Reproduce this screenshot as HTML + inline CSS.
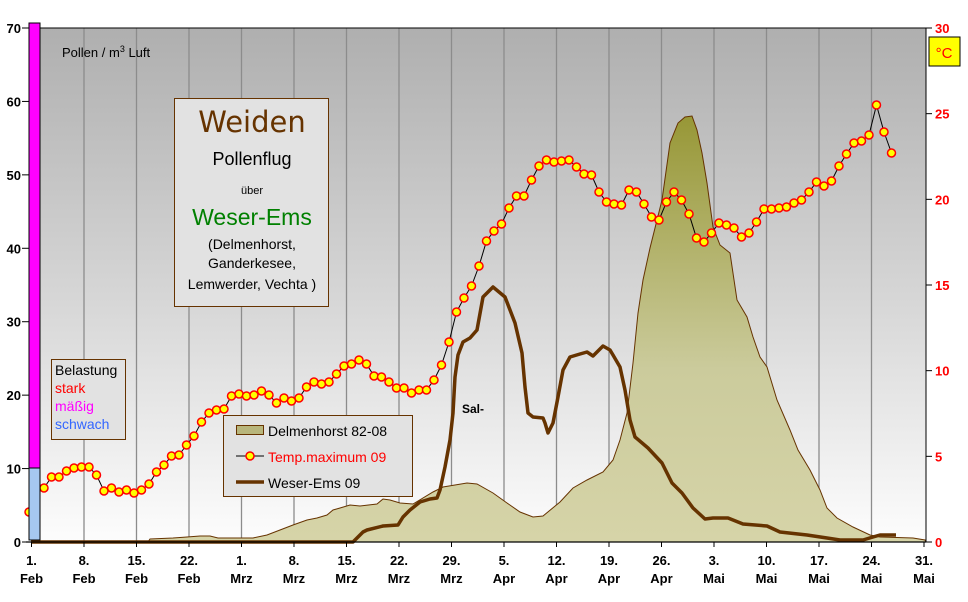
<!DOCTYPE html>
<html><head><meta charset="utf-8"><style>
body{margin:0;background:#fff;}
svg{display:block;font-family:"Liberation Sans",sans-serif;}
</style></head><body>
<svg id="s" width="968" height="602" viewBox="0 0 968 602" xmlns="http://www.w3.org/2000/svg">
<defs>
<linearGradient id="bg" x1="0" y1="0" x2="0" y2="1">
<stop offset="0" stop-color="#afafaf"/><stop offset="0.55" stop-color="#d8d8d8"/><stop offset="1" stop-color="#fdfdfd"/></linearGradient>
<linearGradient id="ar" gradientUnits="userSpaceOnUse" x1="0" y1="110" x2="0" y2="542">
<stop offset="0" stop-color="#969634"/><stop offset="0.6" stop-color="#cbcb9c"/><stop offset="1" stop-color="#d6d4a8"/></linearGradient>
</defs>
<rect x="40" y="28" width="886" height="514" fill="url(#bg)"/>
<g id="grid" stroke="#8c8c8c" stroke-width="1.3"></g>
<path fill="url(#ar)" stroke="#663300" stroke-width="1" d="M29,542 L148,542 150,539 173,538 187,537 200,536 210,536 218,538 253,538 267,535 280,530 293,525 307,520 317,518 327,515 333,510 340,508 350,505 360,506 377,504 383,499 390,500 400,503 413,504 433,492 443,487 467,483 477,484 493,493 507,503 520,512 533,517 543,516 560,502 573,488 587,480 603,472 613,460 620,440 627,413 633,363 638,313 643,280 650,248 662,200 670,143 678,123 685,117 692,116 697,130 702,153 707,183 713,227 720,245 730,253 737,300 747,317 753,337 760,357 767,367 777,400 790,430 798,450 810,470 820,490 827,508 837,518 853,527 870,535 880,537 913,538 925,540 926,542 Z"/>
<polyline fill="none" stroke="#663300" stroke-width="3.5" stroke-linejoin="round" points="31,542 353,542 363,532 367,530 383,526 398,525 403,517 410,510 420,502 430,499 437,498 440,490 445,467 450,440 453,413 455,377 458,355 463,342 470,338 477,330 483,297 493,287 505,297 515,323 522,353 525,387 528,413 533,417 543,418 545,423 548,433 553,423 558,397 563,370 570,357 580,354 587,352 593,356 603,346 610,350 613,355 620,367 625,390 630,420 635,437 648,448 662,463 672,483 682,493 693,508 705,519 713,518 728,518 743,524 767,526 780,532 807,535 827,538 840,540 863,540 873,537 880,535 896,535"/>
<g id="temp"></g>
<rect x="29" y="23" width="11" height="445" fill="#ff00ff" stroke="#000" stroke-width="1"/>
<rect x="29" y="468" width="11" height="72" fill="#a6c8f0" stroke="#000" stroke-width="1"/>
<line x1="40" y1="28" x2="926" y2="28" stroke="#000"/>
<line x1="926" y1="28" x2="926" y2="542" stroke="#000"/>
<line x1="26" y1="542" x2="926" y2="542" stroke="#000" stroke-width="1.2"/>
<g id="ax" font-size="13" font-weight="bold"></g>
<text x="62" y="57" font-size="13">Pollen / m<tspan font-size="9" dy="-5">3</tspan><tspan dy="5"> Luft</tspan></text>
<rect x="929" y="37" width="31" height="29" fill="#ffff00" stroke="#000"/>
<text x="944" y="58" font-size="15" fill="#ff0000" text-anchor="middle">°C</text>
<rect x="174.5" y="98.5" width="154" height="208" fill="#e2e2e2" stroke="#663300"/>
<text x="252" y="132" font-size="29" fill="#663300" text-anchor="middle" font-family="DejaVu Sans,sans-serif">Weiden</text>
<text x="252" y="165" font-size="18" text-anchor="middle">Pollenflug</text>
<text x="252" y="194" font-size="11" text-anchor="middle">über</text>
<text x="252" y="225" font-size="23" fill="#008000" text-anchor="middle">Weser-Ems</text>
<text x="252" y="249" font-size="14" text-anchor="middle">(Delmenhorst,</text>
<text x="252" y="268" font-size="14" text-anchor="middle">Ganderkesee,</text>
<text x="252" y="289" font-size="14" text-anchor="middle">Lemwerder, Vechta )</text>
<rect x="51.5" y="359.5" width="74" height="80" fill="#e2e2e2" stroke="#663300"/>
<text x="55" y="375" font-size="14">Belastung</text>
<text x="55" y="393" font-size="14" fill="#ff0000">stark</text>
<text x="55" y="411" font-size="14" fill="#ff00ff">mäßig</text>
<text x="55" y="429" font-size="14" fill="#3366ff">schwach</text>
<rect x="223.5" y="415.5" width="189" height="81" fill="#e2e2e2" stroke="#663300"/>
<rect x="236.5" y="425.5" width="27" height="9" fill="#b8b67c" stroke="#663300"/>
<text x="268" y="436" font-size="14">Delmenhorst 82-08</text>
<line x1="236" y1="456" x2="264" y2="456" stroke="#000"/>
<circle cx="250" cy="456" r="4" fill="#ffff00" stroke="#ff0000" stroke-width="1.5"/>
<text x="268" y="462" font-size="14" fill="#ff0000">Temp.maximum 09</text>
<line x1="236" y1="482" x2="264" y2="482" stroke="#663300" stroke-width="3.5"/>
<text x="268" y="488" font-size="14">Weser-Ems 09</text>
<text x="462" y="413" font-size="12" font-weight="bold">Sal-</text>
</svg>
<script>
var NS="http://www.w3.org/2000/svg",s=document.getElementById('s');
function el(p,t,a,txt){var e=document.createElementNS(NS,t);for(var k in a)e.setAttribute(k,a[k]);if(txt!=null)e.textContent=txt;p.appendChild(e);return e;}
var g=document.getElementById('grid'),ax=document.getElementById('ax');
var lab=[["1.","Feb"],["8.","Feb"],["15.","Feb"],["22.","Feb"],["1.","Mrz"],["8.","Mrz"],["15.","Mrz"],["22.","Mrz"],["29.","Mrz"],["5.","Apr"],["12.","Apr"],["19.","Apr"],["26.","Apr"],["3.","Mai"],["10.","Mai"],["17.","Mai"],["24.","Mai"],["31.","Mai"]];
for(var i=0;i<18;i++){var x=31.5+52.5*i;
 if(i>0&&i<17)el(g,'line',{x1:x,y1:28,x2:x,y2:542});
 el(ax,'line',{x1:x,y1:542,x2:x,y2:547,stroke:'#000'});
 el(ax,'text',{x:x,y:565,'text-anchor':'middle'},lab[i][0]);
 el(ax,'text',{x:x,y:583,'text-anchor':'middle'},lab[i][1]);}
for(var v=0;v<=70;v+=10){var y=542-v*514/70;
 el(ax,'line',{x1:22,y1:y,x2:29,y2:y,stroke:'#000'});
 el(ax,'text',{x:21,y:y+5,'text-anchor':'end'},v);}
for(var v=0;v<=30;v+=5){var y=542-v*514/30;
 el(ax,'line',{x1:926,y1:y,x2:932,y2:y,stroke:'#000'});
 el(ax,'text',{x:935,y:y+5,fill:'#ff0000'},v);}
var T=[512,489,488,477,477,471,468,467,467,475,491,488,492,490,493,490,484,472,465,456,455,445,436,422,413,410,409,396,394,396,395,391,395,403,398,401,398,387,382,384,382,374,366,364,360,364,376,377,382,388,388,393,390,390,380,365,342,312,298,286,266,241,231,224,208,196,196,180,166,160,162,161,160,167,174,175,192,202,204,205,190,192,204,217,220,202,192,200,214,238,242,233,223,225,228,237,233,222,209,209,208,207,203,200,192,182,186,181,166,154,143,141,135,105,132,153];
var tg=document.getElementById('temp'),pts=[];
for(var d=0;d<T.length;d++)pts.push((29+7.5*d).toFixed(1)+','+T[d]);
el(tg,'polyline',{points:pts.join(' '),fill:'none',stroke:'#000','stroke-width':1});
for(var d=0;d<T.length;d++)el(tg,'circle',{cx:29+7.5*d,cy:T[d],r:4,fill:'#ffff00',stroke:'#ff0000','stroke-width':1.5});
</script>
</body></html>
